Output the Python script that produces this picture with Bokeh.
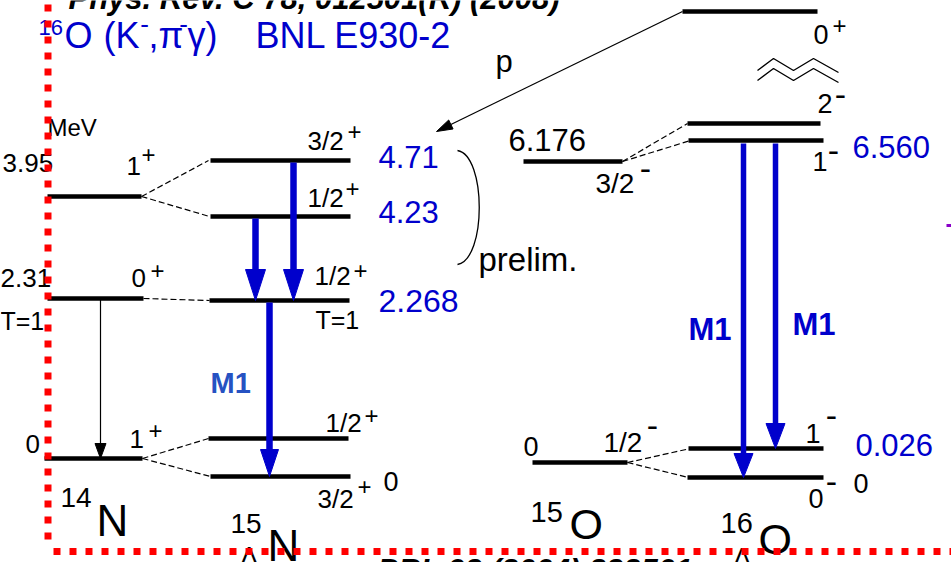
import numpy as np
from bokeh.plotting import figure
from bokeh.models import Range1d
from bokeh.core.properties import value
from bokeh.embed import file_html
from bokeh.resources import INLINE

W, H = 951, 562
FONT = "Liberation Sans"
BLUE = "#0000cc"
M1_BLUE = "#2652c2"
BLACK = "#000000"

# ---------------------------------------------------------------------------
# Level scheme data (schematic heights in drawing units, measured downwards)
# ---------------------------------------------------------------------------
# 14N core
n14_level_y = [196, 298, 458]
n14_energy = ["3.95", "2.31", "0"]
n14_spin = ["1", "0", "1"]
n14_parity = ["+", "+", "+"]

# 15ΛN hypernucleus
l15n_level_y = [160, 216, 300, 438, 476]
l15n_energy = ["4.71", "4.23", "2.268", "", "0"]
l15n_spin = ["3/2", "1/2", "1/2", "1/2", "3/2"]
l15n_parity = ["+", "+", "+", "+", "+"]
l15n_gamma_from = [1, 0, 2]
l15n_gamma_to = [2, 2, 4]

# 15O core
o15_level_y = [161, 462]
o15_energy = ["6.176", "0"]
o15_spin = ["3/2", "1/2"]
o15_parity = ["-", "-"]

# 16ΛO hypernucleus
l16o_level_y = [11, 123, 140, 448, 477]
l16o_energy = ["", "", "6.560", "0.026", "0"]
l16o_spin = ["0", "2", "1", "1", "0"]
l16o_parity = ["+", "-", "-", "-", "-"]
l16o_gamma_from = [2, 2]
l16o_gamma_to = [4, 3]

# ---------------------------------------------------------------------------
p = figure(width=W, height=H, x_range=Range1d(0, W), y_range=Range1d(H, 0),
           output_backend="svg", toolbar_location=None, min_border=0,
           x_axis_location=None, y_axis_location=None)
p.grid.visible = False
p.outline_line_color = None
p.background_fill_color = "white"
p.border_fill_color = "white"

# centre of the em box sits this far above the alphabetic baseline
MID = 0.3465


def txt(s, x, y, size, color=BLACK, style="normal", align="left"):
    # (x, y) is the left end of the text baseline
    p.text(x=[x], y=[y - MID * size], text=[s], text_font=value(FONT),
           text_font_size=f"{size}px", text_color=color, text_font_style=style,
           text_align=align, text_baseline="middle")


def sup(s, x, y, color=BLACK, size=None):
    # superscript sign with its ink centred on (x, y)
    if size is None:
        size = 24 if s == "+" else 34
    dy = -0.0765 * size if s == "-" else 0.0
    p.text(x=[x], y=[y + dy], text=[s], text_font=value(FONT),
           text_font_size=f"{size}px", text_color=color, text_align="center",
           text_baseline="middle")


def head(tip_x, tip_y, dx, dy, length, width):
    n = np.hypot(dx, dy)
    ux, uy = dx / n, dy / n
    bx, by = tip_x - ux * length, tip_y - uy * length
    px, py = -uy, ux
    xs = [tip_x, bx + px * width / 2, bx - px * width / 2]
    ys = [tip_y, by + py * width / 2, by - py * width / 2]
    return xs, ys, bx, by


def levels(ys, spans, lw=4.5):
    p.segment(x0=[s[0] for s in spans], x1=[s[1] for s in spans], y0=ys, y1=ys,
              line_color=BLACK, line_width=lw)


def connect(x0, y0, x1, y1):
    p.segment(x0=[x0], y0=[y0], x1=[x1], y1=[y1], line_color=BLACK,
              line_width=1.2, line_dash="6 3")


def gamma(x, y_from, y_to, lw, hl, hw, color=BLUE):
    xs, ys, bx, by = head(x, y_to, 0, 1, hl, hw)
    p.segment(x0=[x], y0=[y_from], x1=[x], y1=[by], line_color=color, line_width=lw)
    p.patch(xs, ys, fill_color=color, line_color=color, line_width=1)


# ---------------------------------------------------------------------------
# level lines
levels(n14_level_y, [(47, 141), (47, 143), (44, 142)])
levels(l15n_level_y, [(210, 350), (210, 350), (209, 349), (208, 348), (210, 350)])
levels(o15_level_y, [(523, 622), (532, 627)])
levels(l16o_level_y, [(682, 817), (687, 820), (688, 823), (688, 823), (687, 823)])

# core level -> hypernuclear doublet connectors
connect(141, n14_level_y[0], 208, l15n_level_y[0])
connect(141, n14_level_y[0], 209, l15n_level_y[1])
connect(143, n14_level_y[1], 209, l15n_level_y[2])
connect(142, n14_level_y[2], 208, l15n_level_y[3])
connect(142, n14_level_y[2], 210, l15n_level_y[4])
connect(622, o15_level_y[0], 687, l16o_level_y[1])
connect(622, o15_level_y[0], 690, l16o_level_y[2])
connect(627, o15_level_y[1], 690, l16o_level_y[3])
connect(627, o15_level_y[1], 688, l16o_level_y[4])

# 14N isovector transition (thin)
xs, ys, bx, by = head(100, n14_level_y[2], 0, 1, 15, 11)
p.segment(x0=[100], y0=[n14_level_y[1]], x1=[100], y1=[by], line_color=BLACK, line_width=1.2)
p.patch(xs, ys, fill_color=BLACK, line_color=BLACK)

# 15ΛN gamma transitions
for (x, hl, hw), i, j in zip([(255, 31, 20), (293, 31, 20), (269, 27, 18)],
                             l15n_gamma_from, l15n_gamma_to):
    gamma(x, l15n_level_y[i] + 2, l15n_level_y[j], 6.5, hl, hw)

# 16ΛO gamma transitions
for (x, hl, hw), i, j in zip([(743, 24, 19), (775, 25, 19)], l16o_gamma_from, l16o_gamma_to):
    gamma(x, l16o_level_y[i] + 3, l16o_level_y[j], 5.5, hl, hw)

# proton emission from the 16ΛO 0+ state down to 15ΛN
px0, py0, ptx, pty = 682, l16o_level_y[0], 436, 131
xs, ys, bx, by = head(ptx, pty, ptx - px0, pty - py0, 16, 10)
p.segment(x0=[px0], y0=[py0], x1=[bx], y1=[by], line_color=BLACK, line_width=1.3)
p.patch(xs, ys, fill_color=BLACK, line_color=BLACK)

# energy-scale break above the 2- level
zig_x = [757, 773, 793, 813, 838]
p.multi_line(xs=[zig_x, zig_x], ys=[[70, 58, 70, 58, 72], [80, 68, 80, 68, 82]],
             line_color=BLACK, line_width=1.4)

# bracket for the preliminary doublet
p.bezier(x0=[457], y0=[150], x1=[457], y1=[264], cx0=[486], cy0=[155],
         cx1=[486], cy1=[259], line_color=BLACK, line_width=1.3)

# ---------------------------------------------------------------------------
# headings
txt("Phys. Rev. C 78, 012501(R) (2008)", 68, 9, 31, style="bold italic")
txt("PRL 93 (2004) 232501", 377, 581, 31, style="bold italic")
txt("16", 38, 35, 22, BLUE)
txt("O", 64, 47, 36, BLUE)
txt("(K", 103, 47, 36, BLUE)
sup("-", 144, 25, color=BLUE, size=26)
txt(",π", 148, 47, 36, BLUE)
sup("-", 183, 25, color=BLUE, size=26)
txt("γ)", 187, 47, 36, BLUE)
txt("BNL E930-2", 255, 47, 36, BLUE)

# 14N labels
txt("MeV", 47, 135, 24)
txt(n14_energy[0], 2, 172, 26)
txt(n14_spin[0], 126, 175, 26); sup(n14_parity[0], 148, 154)
txt(n14_energy[1], 0, 287, 26)
txt(n14_spin[1], 131, 287, 26); sup(n14_parity[1], 157, 270)
txt("T=1", 0, 329, 25)
txt(n14_energy[2], 25, 453, 26)
txt(n14_spin[2], 129, 448, 26); sup(n14_parity[2], 155, 430)
txt("14", 60, 507, 28)
txt("N", 96, 535, 44)

# 15ΛN labels
txt(l15n_spin[0], 307, 150, 26); sup(l15n_parity[0], 354, 131)
txt(l15n_energy[0], 378, 167, 31, BLUE)
txt(l15n_spin[1], 307, 207, 26); sup(l15n_parity[1], 352, 188)
txt(l15n_energy[1], 378, 222, 31, BLUE)
txt(l15n_spin[2], 314, 285, 26); sup(l15n_parity[2], 360, 270)
txt(l15n_energy[2], 378, 312, 32, BLUE)
txt("T=1", 315, 328, 25)
txt("M1", 210, 393, 29, M1_BLUE, style="bold")
txt(l15n_spin[3], 325, 432, 26); sup(l15n_parity[3], 371, 415)
txt(l15n_spin[4], 317, 508, 26); sup(l15n_parity[4], 364, 486)
txt(l15n_energy[4], 383, 490, 27)
txt("15", 230, 533, 28)
txt("N", 267, 560, 44)
txt("Λ", 240, 565, 26)
txt("prelim.", 478, 270, 33)

# 15O labels
txt(o15_energy[0], 508, 150, 31)
txt(o15_spin[0], 595, 193, 28); sup(o15_parity[0], 645, 171)
txt(o15_energy[1], 523, 455, 27)
txt(o15_spin[1], 603, 452, 28); sup(o15_parity[1], 652, 428)
txt("15", 530, 522, 29)
txt("O", 569, 538, 43)

# 16ΛO labels
txt("p", 495, 72, 31)
txt(l16o_spin[0], 813, 43, 27); sup(l16o_parity[0], 839, 25)
txt(l16o_spin[1], 817, 112, 27); sup(l16o_parity[1], 840, 97)
txt(l16o_spin[2], 812, 170, 27); sup(l16o_parity[2], 833, 153)
txt(l16o_energy[2], 852, 157, 31, BLUE)
txt("M1", 688, 340, 31, BLUE, style="bold")
txt("M1", 792, 335, 31, BLUE, style="bold")
txt(l16o_spin[3], 805, 442, 27); sup(l16o_parity[3], 831, 418)
txt(l16o_energy[3], 855, 455, 31, BLUE)
txt(l16o_spin[4], 808, 507, 27); sup(l16o_parity[4], 831, 484)
txt(l16o_energy[4], 853, 492, 27)
txt("16", 720, 533, 29)
txt("O", 758, 553, 43)
txt("Λ", 733, 566, 26)

# stray mark at the right edge
p.segment(x0=[946], y0=[225], x1=[951], y1=[225], line_color="#8a00c8", line_width=3)

# red dotted frame
p.line(x=[47.5, 47.5], y=[4, 548], line_color="#ff0000", line_width=7, line_dash="7 9")
p.line(x=[53, 951], y=[551, 551], line_color="#ff0000", line_width=7, line_dash="7 9")

open("out.html", "w").write(file_html(p, INLINE))
